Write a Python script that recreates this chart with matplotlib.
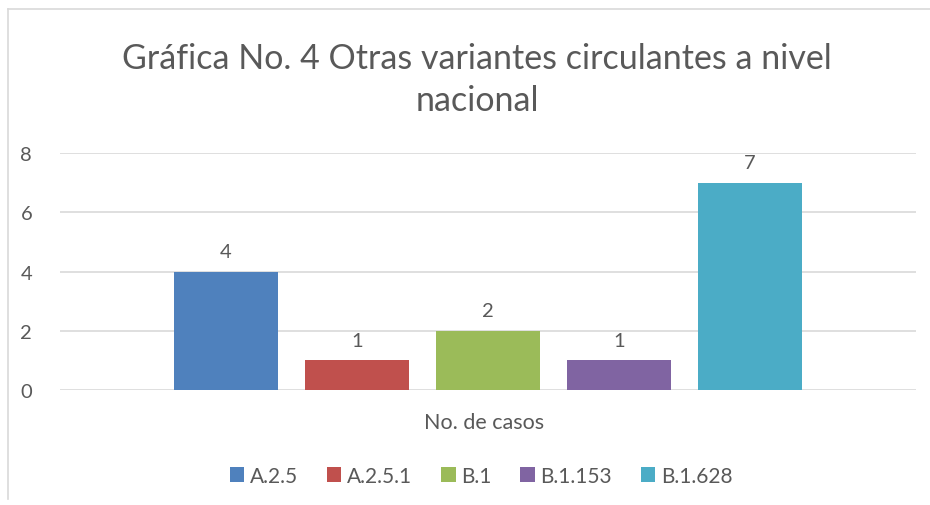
import matplotlib
matplotlib.use("Agg")
import matplotlib.pyplot as plt
from matplotlib.patches import Patch
from matplotlib.lines import Line2D

variants = ["A.2.5", "A.2.5.1", "B.1", "B.1.153", "B.1.628"]
cases = [4, 1, 2, 1, 7]
colors = ["#4f81bd", "#c0504d", "#9bbb59", "#8064a2", "#4bacc6"]
category = "No. de casos"
title = "Gráfica No. 4 Otras variantes circulantes a nivel\nnacional"
yticks = [0, 2, 4, 6, 8]

plt.rcParams["font.family"] = ["Lato", "DejaVu Sans"]
txt = "#595959"
fs = 14.5

fig = plt.figure(figsize=(9.30, 5.06), dpi=100)
ax = fig.add_axes([60/930, 115/506, 856/930, 237/506])

xs = list(range(len(variants)))
bars = ax.bar(xs, cases, width=0.794, color=colors, zorder=3)
for x, v in zip(xs, cases):
    ax.text(x, v + 0.38, str(v), ha="center", va="bottom", fontsize=fs, color=txt)

ax.set_xlim(-1.265, 5.265)
ax.set_ylim(0, 8)
ax.set_yticks(yticks)
ax.set_yticklabels([str(t) for t in yticks], fontsize=fs, color=txt)
ax.tick_params(axis="y", length=0, pad=20)
ax.set_xticks([])
ax.grid(axis="y", color="#d9d9d9", linewidth=1.2, zorder=0)
for s in ax.spines.values():
    s.set_visible(False)

fig.text(477/930, 1 - 80/506, title, ha="center", va="center", fontsize=24.5,
         color=txt, linespacing=1.38)
fig.text(484/930, 1 - 423/506, category, ha="center", va="center", fontsize=15.5, color=txt)

handles = [Patch(facecolor=c, edgecolor="none") for c in colors]
fig.legend(handles, variants, loc="center", bbox_to_anchor=(481/930, 1 - 477/506),
           ncol=5, frameon=False, fontsize=15, handlelength=0.7, handleheight=0.7,
           handletextpad=0.25, columnspacing=1.4, labelcolor=txt)

fig.add_artist(Line2D([8/930, 1], [1 - 10/506, 1 - 10/506], transform=fig.transFigure,
                      color="#d9d9d9", linewidth=1.2))
fig.add_artist(Line2D([8/930, 8/930], [1 - 10/506, 1 - 500/506], transform=fig.transFigure,
                      color="#d9d9d9", linewidth=1.2))

fig.savefig("out.png", dpi=100)
